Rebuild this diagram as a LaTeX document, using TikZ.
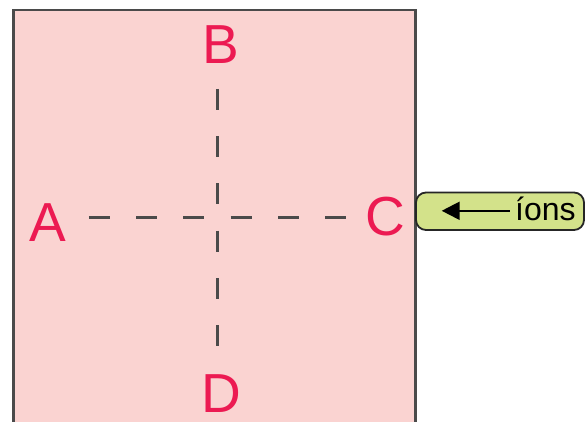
\documentclass[tikz,border=0pt]{standalone}
\usepackage{fontspec}
\setmainfont{Liberation Sans}
\usetikzlibrary{arrows.meta}
\definecolor{cellpink}{HTML}{FAD3D1}
\definecolor{letterred}{HTML}{EC1A52}
\definecolor{tabgreen}{HTML}{D3E28A}
\definecolor{rimgray}{HTML}{4A4A4A}
\tikzset{
  cellwall/.style={draw=rimgray, line width=2.2pt},
  pointlabel/.style={text=letterred, inner sep=0pt, anchor=base,
    text depth=0pt, font=\fontsize{55}{55}\selectfont},
  axisline/.style={draw=rimgray, line width=2.3pt,
    dash pattern=on 21pt off 26.3pt},
  tabbox/.style={draw=black!85, line width=1.8pt, fill=tabgreen,
    rounded corners=10pt},
  tabtext/.style={inner sep=0pt, anchor=base west,
    font=\fontsize{32}{32}\selectfont},
  flowarrow/.style={line width=2.2pt,
    -{Triangle[length=18pt,width=18pt]}}
}
\begin{document}
\begin{tikzpicture}[x=1pt,y=-1pt]
  \useasboundingbox (0,0) rectangle (586,422);
  % the cell, open at the bottom
  \fill[cellpink] (13.5,10) rectangle (415.5,430);
  \draw[cellwall] (13.5,430) -- (13.5,10) -- (415.5,10) -- (415.5,430);
  % labels at the four sides
  \node[pointlabel] (A) at (48,241) {A};
  \node[pointlabel] (B) at (220.5,64) {B};
  \node[pointlabel] (C) at (385.5,235.5) {C};
  \node[pointlabel] (D) at (221,412) {D};
  % dashed axes through the centre
  \coordinate (hA) at (88.8,217.5);
  \coordinate (hC) at (348,217.5);
  \coordinate (vB) at (217.5,88.8);
  \coordinate (vD) at (217.5,348);
  \draw[axisline] (hA) -- (hC);
  \draw[axisline] (vB) -- (vD);
  % ion inflow tab
  \draw[tabbox] (416,192.5) rectangle (584,230);
  \node[tabtext] (ions) at (515,221) {íons};
  \coordinate (arrowstart) at (509.5,210.8);
  \coordinate (arrowtip) at (441.7,210.8);
  \draw[flowarrow] (arrowstart) -- (arrowtip);
\end{tikzpicture}
\end{document}
